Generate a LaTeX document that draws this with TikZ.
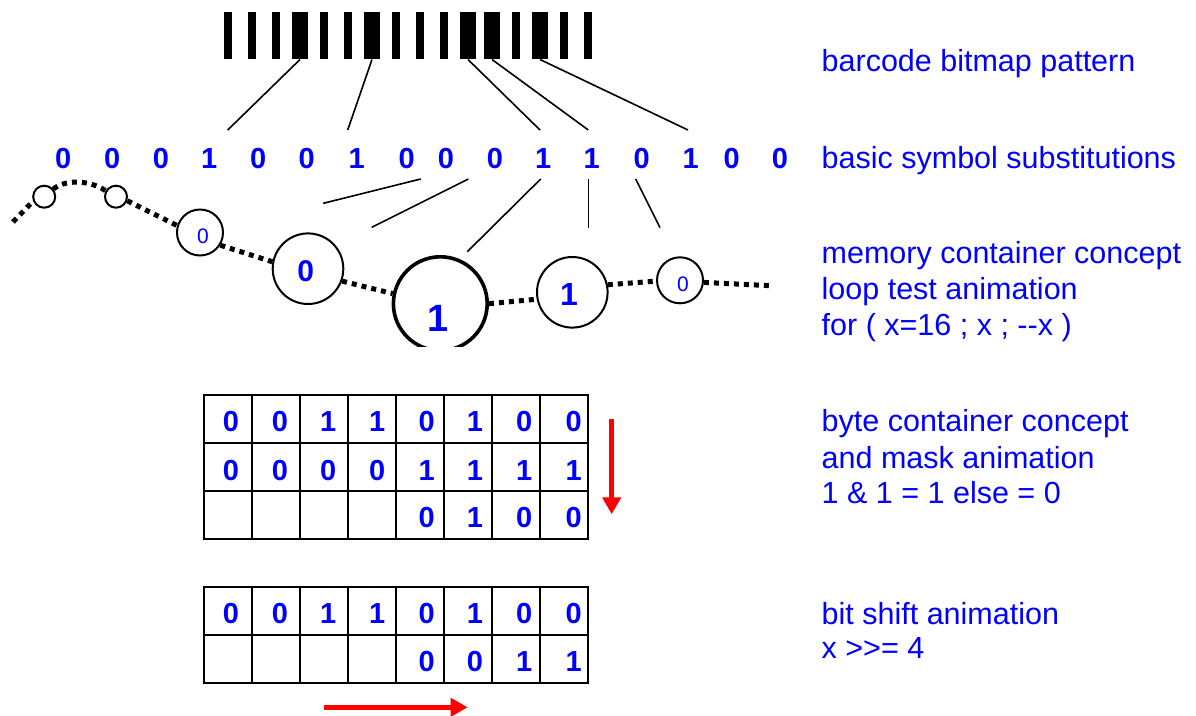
\documentclass[tikz,border=0pt]{standalone}
\usepackage{fontspec}
\setmainfont{Liberation Sans}
\usetikzlibrary{arrows.meta}
\definecolor{txtblue}{RGB}{0,0,255}
\definecolor{arrred}{RGB}{255,0,0}
\begin{document}
\begin{tikzpicture}[x=1pt,y=-1pt,
  bar/.style={fill=black,draw=none,inner sep=0pt,minimum height=47.6pt,minimum width=#1},
  digit/.style={text=txtblue,font=\fontsize{29}{34}\selectfont\bfseries,inner sep=0pt,anchor=base},
  lbl/.style={text=txtblue,font=\fontsize{30.5}{36}\selectfont,inner sep=0pt,anchor=base west},
  link/.style={draw=black,line width=1.6pt},
  ring/.style={circle,draw=black,line width=2pt,inner sep=0pt,minimum size=#1},
  dots/.style={draw=black,line width=5pt,dash pattern=on 5pt off 5pt},
  cell/.style={rectangle,draw=black,line width=2pt,minimum width=48pt,minimum height=48pt,inner sep=0pt},
  redarrow/.style={draw=arrred,line width=5pt,-{Triangle[length=17pt,width=18pt]}},
  smalldig/.style={text=txtblue,font=\fontsize{21}{25}\selectfont,inner sep=0pt,anchor=base}
]
\useasboundingbox (0,0) rectangle (1196,715);
\fill[white] (0,0) rectangle (1196,715);

% barcode
\foreach \b [count=\i] in {0,0,0,1,0,0,1,0,0,0,1,1,0,1,0,0} {
  \pgfmathsetmacro\w{\b==1 ? 16 : 8}
  \node[bar=\w pt] (b\i) at ({228+24*(\i-1)},35.5) {};
}

% symbol row
\foreach \v/\x [count=\i] in {0/63.3,0/112.3,0/161,1/209.3,0/258.3,0/306.7,1/356.7,0/406.7,0/446,0/495,1/543.3,1/591.7,0/641.7,1/690.7,0/731.7,0/780} {
  \node[digit] (d\i) at (\x,168.3) {\v};
}

% barcode to symbol links
\coordinate (u1) at (227.7,130);
\coordinate (u2) at (347.7,130);
\coordinate (u3) at (540,130);
\coordinate (u4) at (588.3,130);
\coordinate (u5) at (688,130);
\draw[link] (b4.south) -- (u1);
\draw[link] (b7.south) -- (u2);
\draw[link] (b11.south) -- (u3);
\draw[link] (b12.south) -- (u4);
\draw[link] (b14.south) -- (u5);

% memory circles
\node[ring=22pt] (c1) at (44.2,196.7) {};
\node[ring=22pt] (c2) at (116,196.7) {};
\node[ring=46pt] (c3) at (200,232.5) {};
\node[ring=70.6pt] (c4) at (308,268.7) {};
\begin{scope}
  \clip (380,240) rectangle (510,346.7);
  \node[ring=93.8pt,line width=3.6pt] (c5) at (440.3,303.7) {};
\end{scope}
\node[ring=70.6pt] (c6) at (572.3,292.3) {};
\node[ring=46pt] (c7) at (680,280.3) {};

\node[smalldig] (t3) at (203,243.3) {0};
\node[digit,font=\fontsize{30}{36}\selectfont\bfseries] (t4) at (305.8,281.7) {0};
\node[digit,font=\fontsize{38}{44}\selectfont\bfseries] (t5) at (438.5,331.7) {1};
\node[digit,font=\fontsize{32}{38}\selectfont\bfseries] (t6) at (569,305.7) {1};
\node[smalldig] (t7) at (683,291.7) {0};

% dotted chain
\coordinate (s0) at (13,222);
\coordinate (e0) at (770,285.7);
\draw[dots] (s0) -- (c1.202);
\draw[dots] (c1.40) .. controls (64,180) and (88,179) .. (c2.150);
\draw[dots] (c2.-20) -- (c3.163);
\draw[dots] (c3.-32) -- (c4.169);
\draw[dots] (c4.-20) -- (c5.168);
\draw[dots] (c5.0) -- (c6.191);
\draw[dots] (c6.12) -- (c7.182);
\draw[dots] (c7.-5) -- (e0);

% symbol to circle links
\coordinate (pa1) at (420.7,179);  \coordinate (pa2) at (323.3,203.3);
\coordinate (pb1) at (468.3,179);  \coordinate (pb2) at (371.7,227.3);
\coordinate (pc1) at (540.7,179);  \coordinate (pc2) at (467.3,251.7);
\coordinate (pd1) at (588.3,179);  \coordinate (pd2) at (588.3,227.7);
\coordinate (pe1) at (635.7,179);  \coordinate (pe2) at (660,227.7);
\draw[link] (pa1) -- (pa2);
\draw[link] (pb1) -- (pb2);
\draw[link] (pc1) -- (pc2);
\draw[link] (pd1) -- (pd2);
\draw[link] (pe1) -- (pe2);

% byte table (mask)
\foreach \r/\y in {1/419,2/467,3/515} {
  \foreach \c in {1,...,8} {
    \node[cell] (m\r c\c) at ({228+48*(\c-1)},\y) {};
  }
}
\foreach \v/\x [count=\i] in {0/231,0/280,1/328.3,1/377.3,0/426.7,1/475,0/524.3,0/573.7} {
  \node[digit] (ma\i) at (\x,431.7) {\v};
}
\foreach \v/\x [count=\i] in {0/231,0/280,0/328.3,0/377.3,1/426.7,1/475,1/524.3,1/573.7} {
  \node[digit] (mb\i) at (\x,480) {\v};
}
\foreach \v/\x [count=\i] in {0/426.7,1/475,0/524.3,0/573.7} {
  \node[digit] (mc\i) at (\x,527.7) {\v};
}

% shift table
\foreach \r/\y in {1/611.3,2/659.3} {
  \foreach \c in {1,...,8} {
    \node[cell] (s\r c\c) at ({228+48*(\c-1)},\y) {};
  }
}
\foreach \v/\x [count=\i] in {0/231,0/280,1/328.3,1/377.3,0/426.7,1/475,0/524.3,0/573.7} {
  \node[digit] (sa\i) at (\x,623.3) {\v};
}
\foreach \v/\x [count=\i] in {0/426.7,0/475,1/524.3,1/573.7} {
  \node[digit] (sb\i) at (\x,671.7) {\v};
}

% red arrows
\coordinate (ad1) at (611.7,419.3);
\coordinate (ad2) at (611.7,514.3);
\draw[redarrow] (ad1) -- (ad2);
\coordinate (ar1) at (324,707.3);
\coordinate (ar2) at (467.7,707.3);
\draw[redarrow] (ar1) -- (ar2);

% labels
\node[lbl] (l1) at (821.5,71.7) {barcode bitmap pattern};
\node[lbl] (l2) at (821.5,168.3) {basic symbol substitutions};
\node[lbl] (l3) at (821.5,263.3) {memory container concept};
\node[lbl] (l4) at (821.5,299.5) {loop test animation};
\node[lbl] (l5) at (821.5,335) {for ( x=16 ; x ; -{}-x )};
\node[lbl] (l6) at (821.5,431.7) {byte container concept};
\node[lbl] (l7) at (821.5,468) {and mask animation};
\node[lbl] (l8) at (821.5,503.5) {1 \& 1 = 1 else = 0};
\node[lbl] (l9) at (821.5,624.3) {bit shift animation};
\node[lbl] (l10) at (821.5,658.5) {x >{}>= 4};
\end{tikzpicture}
\end{document}
